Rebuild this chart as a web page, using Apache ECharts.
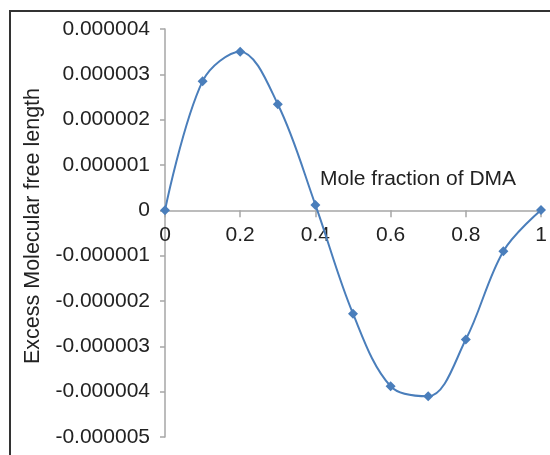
<!DOCTYPE html>
<html>
<head>
<meta charset="utf-8">
<script src="https://cdn.jsdelivr.net/npm/echarts@6/dist/echarts.min.js"></script>
<style>
  html, body { margin: 0; padding: 0; background: #fff; }
  #chart { width: 550px; height: 455px; }
</style>
</head>
<body>
<div id="chart"></div>
<script>
// mole fraction of DMA (x) and excess molecular free length (y)
const moleFraction = [0, 0.1, 0.2, 0.3, 0.4, 0.5, 0.6, 0.7, 0.8, 0.9, 1];
const excessLf = [0, 2.85e-6, 3.50e-6, 2.34e-6, 0.12e-6, -2.28e-6, -3.88e-6, -4.10e-6, -2.85e-6, -0.90e-6, 0.01e-6];
const xTicks = [0, 0.2, 0.4, 0.6, 0.8, 1];
const yTicks = [-0.000005, -0.000004, -0.000003, -0.000002, -0.000001, 0, 0.000001, 0.000002, 0.000003, 0.000004];

const font = '"Liberation Sans", Arial, sans-serif';
const textColor = '#222';
const axisColor = '#a6a6a6';

const chart = echarts.init(document.getElementById('chart'), null, { renderer: 'canvas' });

function yLabel(v) {
  if (Math.abs(v) < 1e-12) return '0';
  return v.toFixed(6);
}

const option = {
  animation: false,
  backgroundColor: '#fff',
  textStyle: { fontFamily: font },
  grid: { left: 165, right: 9, top: 29, bottom: 18, containLabel: false, outerBoundsMode: 'none' },
  xAxis: {
    type: 'value',
    min: xTicks[0],
    max: xTicks[xTicks.length - 1],
    interval: 0.2,
    axisLine: { onZero: true, lineStyle: { color: axisColor, width: 1.5 } },
    axisTick: { show: true, length: 7, lineStyle: { color: axisColor, width: 1.5 } },
    axisLabel: {
      margin: 14,
      fontSize: 21,
      color: textColor,
      fontFamily: font,
      formatter: v => String(+v.toFixed(1))
    },
    splitLine: { show: false }
  },
  yAxis: {
    type: 'value',
    min: yTicks[0],
    max: yTicks[yTicks.length - 1],
    interval: 0.000001,
    name: 'Excess Molecular free length',
    nameLocation: 'middle',
    nameGap: 120,
    nameTextStyle: { fontSize: 21.5, color: textColor, fontFamily: font, padding: [0, 0, 0, 14] },
    axisLine: { show: true, onZero: false, lineStyle: { color: axisColor, width: 1.5 } },
    axisTick: { show: true, length: 5, lineStyle: { color: axisColor, width: 1.5 } },
    axisLabel: {
      margin: 15,
      fontSize: 21,
      color: textColor,
      fontFamily: font,
      formatter: yLabel
    },
    splitLine: { show: false }
  },
  graphic: [
    {
      type: 'rect',
      shape: { x: 10, y: 11, width: 600, height: 500 },
      style: { fill: 'none', stroke: '#333', lineWidth: 2 },
      silent: true
    },
    {
      type: 'text',
      left: 320,
      top: 169,
      style: { text: 'Mole fraction of DMA', fontSize: 21, fill: textColor, fontFamily: font }
    }
  ],
  series: [{
    type: 'line',
    data: moleFraction.map((x, i) => [x, excessLf[i]]),
    smooth: 0.35,
    symbol: 'diamond',
    symbolSize: 10,
    lineStyle: { color: '#4a7ebb', width: 2 },
    itemStyle: { color: '#4a7ebb' }
  }]
};

chart.setOption(option);

// put the x axis on y = 0 (crossing), using the y scale
const zeroPx = chart.convertToPixel({ yAxisIndex: 0 }, 0);
const bottomPx = chart.convertToPixel({ yAxisIndex: 0 }, yTicks[0]);
chart.setOption({ xAxis: { axisLine: { onZero: false }, offset: zeroPx - bottomPx } });
</script>
</body>
</html>
